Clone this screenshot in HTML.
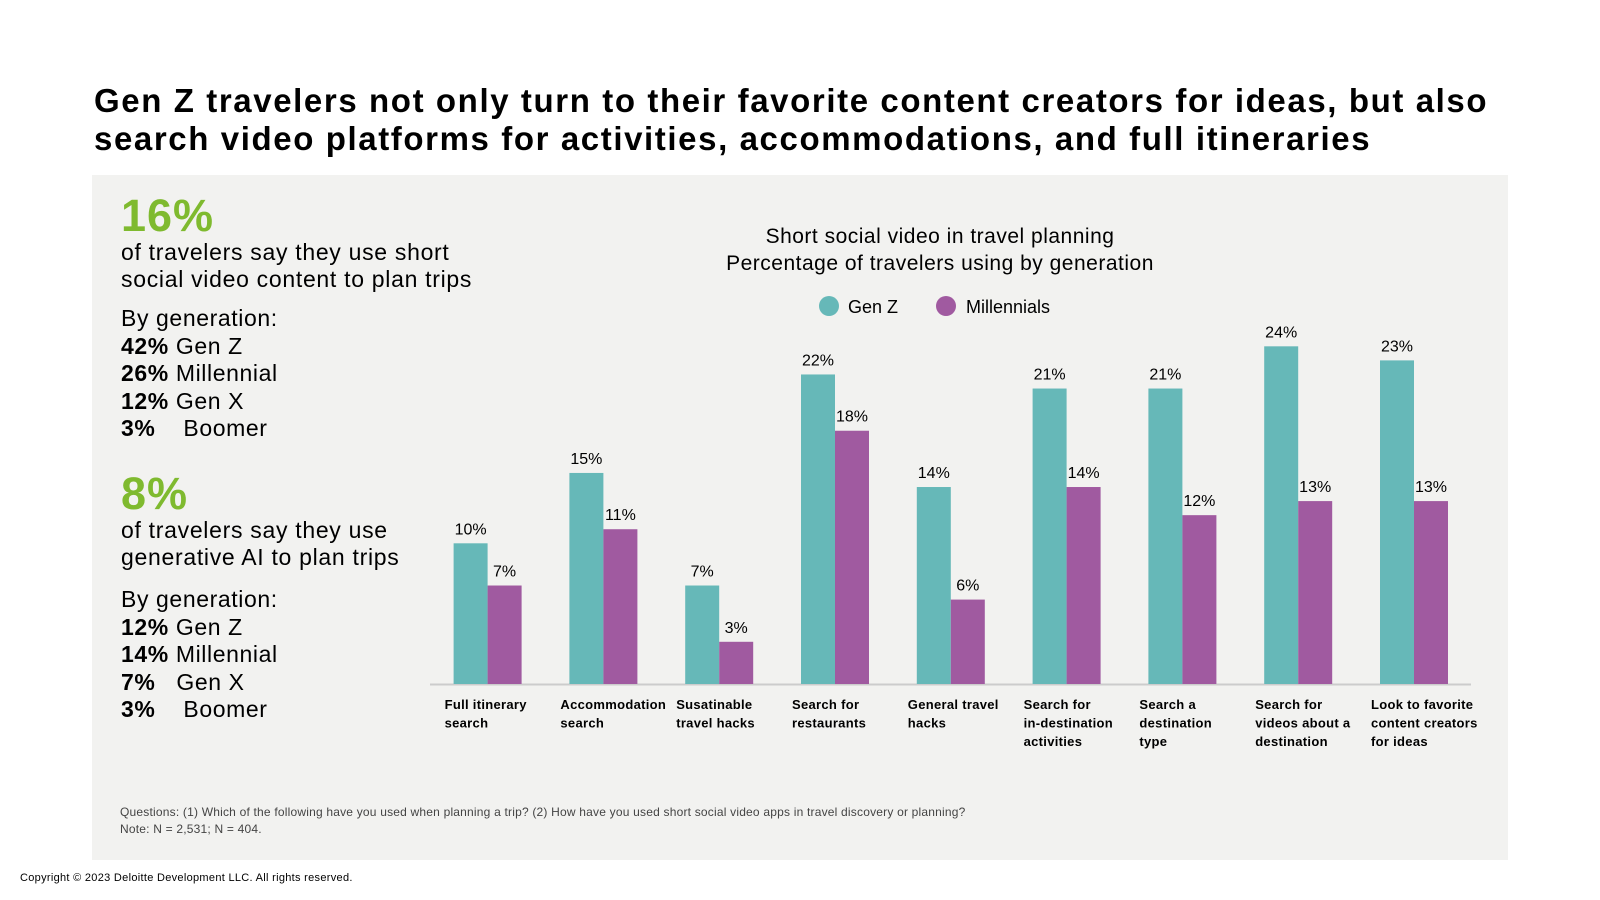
<!DOCTYPE html>
<html><head><meta charset="utf-8"><style>
body{margin:0;width:1600px;height:900px;background:#fff;font-family:"Liberation Sans","DejaVu Sans",sans-serif;position:relative;overflow:hidden;color:#000}
.abs{position:absolute;white-space:nowrap}
</style></head><body>
<div class="abs" style="left:94px;top:82px;font-size:33px;font-weight:bold;line-height:38px;letter-spacing:1.6px;">Gen Z travelers not only turn to their favorite content creators for ideas, but also<br>search video platforms for activities, accommodations, and full itineraries</div>
<div class="abs" style="left:92px;top:175px;width:1416px;height:685px;background:#f2f2f0;"></div>
<div class="abs" style="left:121px;top:190px;font-size:45px;font-weight:bold;color:#7fba2f;letter-spacing:1px;">16%</div>
<div class="abs" style="left:121px;top:239px;font-size:23px;line-height:27px;letter-spacing:0.7px;">of travelers say they use short<br>social video content to plan trips</div>
<div class="abs" style="left:121px;top:305px;font-size:23px;line-height:27.5px;letter-spacing:0.6px;">By generation:<br><b>42%</b>&nbsp;Gen Z<br><b>26%</b>&nbsp;Millennial<br><b>12%</b>&nbsp;Gen X<br><b>3%</b>&nbsp;&nbsp;&nbsp;&nbsp;Boomer</div>
<div class="abs" style="left:121px;top:468px;font-size:45px;font-weight:bold;color:#7fba2f;letter-spacing:1px;">8%</div>
<div class="abs" style="left:121px;top:517px;font-size:23px;line-height:27px;letter-spacing:0.7px;">of travelers say they use<br>generative AI to plan trips</div>
<div class="abs" style="left:121px;top:586px;font-size:23px;line-height:27.5px;letter-spacing:0.6px;">By generation:<br><b>12%</b>&nbsp;Gen Z<br><b>14%</b>&nbsp;Millennial<br><b>7%</b>&nbsp;&nbsp;&nbsp;Gen X<br><b>3%</b>&nbsp;&nbsp;&nbsp;&nbsp;Boomer</div>
<div class="abs" style="left:120px;top:804px;font-size:12px;line-height:17px;color:#444;letter-spacing:0.2px;">Questions: (1) Which of the following have you used when planning a trip? (2) How have you used short social video apps in travel discovery or planning?<br>Note: N = 2,531; N = 404.</div>
<div class="abs" style="left:20px;top:872px;font-size:11px;letter-spacing:0.3px;">Copyright © 2023 Deloitte Development LLC. All rights reserved.</div>
<svg id="chart" class="abs" style="left:0;top:0" width="1600" height="900">
<text x="940" y="243" text-anchor="middle" font-size="21" letter-spacing="0.5">Short social video in travel planning</text>
<text x="940" y="270" text-anchor="middle" font-size="21" letter-spacing="0.5">Percentage of travelers using by generation</text>
<circle cx="829" cy="306" r="10" fill="#66b8b8"/>
<text x="848" y="313" font-size="18">Gen Z</text>
<circle cx="946" cy="306" r="10" fill="#a05aa0"/>
<text x="966" y="313" font-size="18">Millennials</text>
<line x1="430" y1="684.5" x2="1471" y2="684.5" stroke="#ccc" stroke-width="2"/>
</svg>
<script>
const categories=[["Full itinerary","search"],["Accommodation","search"],["Susatinable","travel hacks"],["Search for","restaurants"],["General travel","hacks"],["Search for","in-destination","activities"],["Search a","destination","type"],["Search for","videos about a","destination"],["Look to favorite","content creators","for ideas"]];
const genZ=[10,15,7,22,14,21,21,24,23];
const millennials=[7,11,3,18,6,14,12,13,13];
const svg=document.getElementById('chart');const NS='http://www.w3.org/2000/svg';
const base=684,perPct=14.07,x0=487.6,step=115.8,bw=34;
const y=v=>base-v*perPct;
function mk(t,a){const e=document.createElementNS(NS,t);for(const k in a)e.setAttribute(k,a[k]);svg.appendChild(e);return e;}
categories.forEach((c,i)=>{const cx=x0+i*step;
[[genZ[i],cx-bw,'#66b8b8','genz'],[millennials[i],cx,'#a05aa0','millennials']].forEach(([v,x,col,s])=>{
const r=mk('rect',{x:x,y:y(v),width:bw,height:v*perPct,fill:col});


const t=mk('text',{x:x+bw/2,y:y(v)-9,'text-anchor':'middle','font-size':16});t.textContent=v+'%';

});
const tx=mk('text',{x:cx-43,y:709,'font-size':13,'font-weight':'bold','letter-spacing':0.3});


c.forEach((l,j)=>{const ts=document.createElementNS(NS,'tspan');ts.setAttribute('x',cx-43);ts.setAttribute('dy',j?18.5:0);ts.textContent=l;tx.appendChild(ts);});
});
</script>
</body></html>
